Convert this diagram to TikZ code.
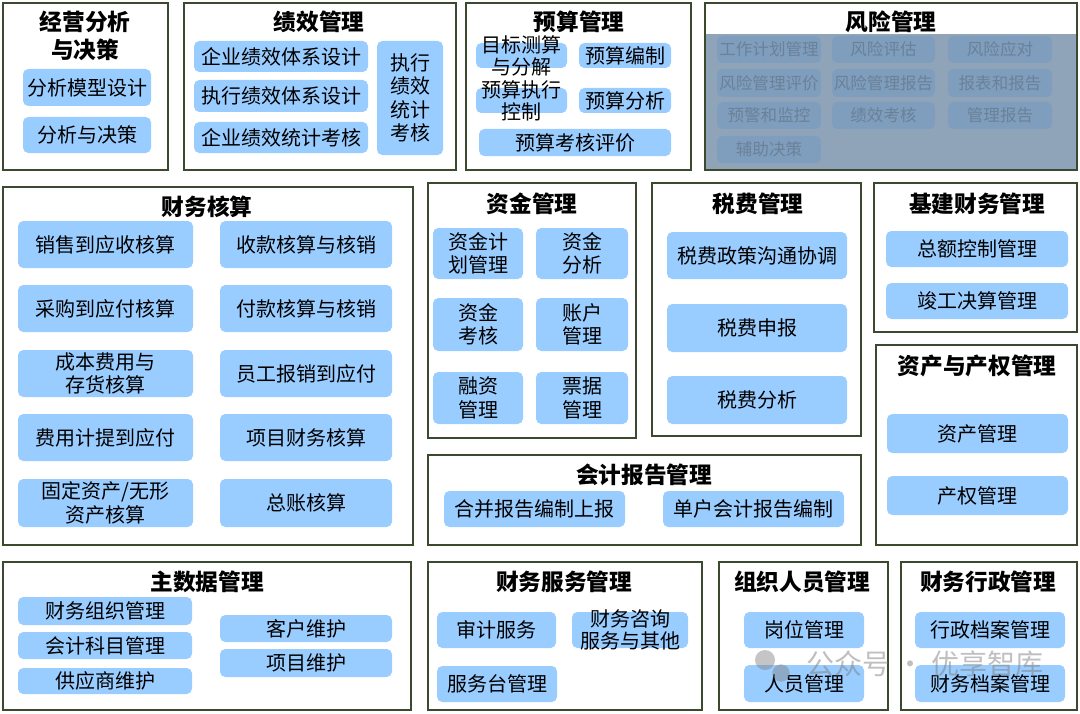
\documentclass[tikz,border=0pt]{standalone}
\usepackage{fontspec}
\setmainfont{Noto Sans CJK SC}
\usetikzlibrary{fit}
\definecolor{bord}{HTML}{3B4A2E}
\definecolor{itemblue}{HTML}{99CCFF}
\definecolor{riskbg}{HTML}{8FA4B9}
\definecolor{riskitem}{HTML}{7F9DBC}
\definecolor{risktext}{HTML}{6A8199}
\newcommand\ibx[7][itext]{\node[itembox, fit={(#3,#4) (#5,#6)}] (#2) {};\node[#1] (#2t) at (#2.center) {#7};}
\newcommand\rbx[6]{\node[ritembox, fit={(#2,#3) (#4,#5)}] (#1) {};\node[ritext] (#1t) at (#1.center) {#6};}
\newcommand\obx[5]{\node[outer, fit={(#2,#3) (#4,#5)}] (#1) {};}
\begin{document}
\begin{tikzpicture}[x=0.75pt,y=-0.75pt,
  outer/.style={draw=bord, line width=1.7pt, fill=white, inner sep=0pt},
  titletext/.style={font=\bfseries\fontsize{17}{21}\selectfont, align=center, inner sep=0pt},
  itembox/.style={fill=itemblue, rounded corners=4pt, inner sep=0pt, draw=none},
  ritembox/.style={fill=riskitem, rounded corners=4pt, inner sep=0pt, draw=none},
  itext/.style={font=\fontsize{15}{17.5}\selectfont, align=center, inner sep=0pt, text=black},
  ritext/.style={font=\fontsize{12.4}{14}\selectfont, align=center, inner sep=0pt, text=risktext}]
\useasboundingbox[fill=white] (0,0) rectangle (1080,713);

% ===== 经营分析与决策 =====
\obx{b1}{3}{3}{168}{170}
\node[titletext, font=\bfseries\fontsize{17}{21}\selectfont] (b1T) at (85,36) {经营分析\\与决策};
\ibx{a1}{23}{69}{151}{106}{分析模型设计}
\ibx{a2}{23}{117}{151}{153}{分析与决策}

% ===== 绩效管理 =====
\obx{b2}{184}{3}{456}{170}
\node[titletext] (b2T) at (319,22) {绩效管理};
\ibx{p1}{194}{41}{368}{72}{企业绩效体系设计}
\ibx{p2}{194}{80}{368}{112}{执行绩效体系设计}
\ibx{p3}{194}{122}{368}{153}{企业绩效统计考核}
\ibx[itext, font=\fontsize{15}{17.6}\selectfont]{p4}{377}{41}{443}{155}{执行\\绩效\\统计\\考核}

% ===== 预算管理 =====
\obx{b3}{466}{3}{691}{170}
\node[titletext] (b3T) at (579,22) {预算管理};
\ibx[itext, font=\fontsize{15}{16.5}\selectfont]{y1}{476}{43}{567}{68}{目标测算\\与分解}
\ibx{y2}{579}{43}{671}{68}{预算编制}
\ibx[itext, font=\fontsize{15}{16.5}\selectfont]{y3}{476}{88}{567}{113}{预算执行\\控制}
\ibx{y4}{579}{88}{671}{113}{预算分析}
\ibx{y5}{479}{129}{671}{156}{预算考核评价}

% ===== 风险管理 =====
\obx{b4}{705}{3}{1077}{170}
\node[titletext] (b4T) at (891,22) {风险管理};
\fill[riskbg] (706,34) rectangle (1076,169);
\rbx{r1}{717}{36}{821}{63}{工作计划管理}
\rbx{r2}{832}{36}{935}{63}{风险评估}
\rbx{r3}{948}{36}{1052}{63}{风险应对}
\rbx{r4}{717}{69}{821}{97}{风险管理评价}
\rbx{r5}{832}{69}{935}{97}{风险管理报告}
\rbx{r6}{948}{69}{1052}{97}{报表和报告}
\rbx{r7}{717}{102}{821}{129}{预警和监控}
\rbx{r8}{832}{102}{935}{129}{绩效考核}
\rbx{r9}{948}{102}{1052}{129}{管理报告}
\rbx{r10}{717}{136}{821}{163}{辅助决策}

% ===== 财务核算 =====
\obx{b5}{3}{187}{413}{545}
\node[titletext] (b5T) at (207,207) {财务核算};
\ibx{c1}{18}{221}{193}{268}{销售到应收核算}
\ibx{c2}{18}{285}{193}{332}{采购到应付核算}
\ibx{c3}{18}{350}{193}{397}{成本费用与\\存货核算}
\ibx{c4}{18}{414}{193}{461}{费用计提到应付}
\ibx{c5}{18}{479}{193}{527}{固定资产/无形\\资产核算}
\ibx{c6}{220}{221}{392}{268}{收款核算与核销}
\ibx{c7}{220}{285}{392}{332}{付款核算与核销}
\ibx{c8}{220}{350}{392}{397}{员工报销到应付}
\ibx{c9}{220}{414}{392}{461}{项目财务核算}
\ibx{c10}{220}{479}{392}{527}{总账核算}

% ===== 资金管理 =====
\obx{b6}{428}{183}{636}{438}
\node[titletext] (b6T) at (532,204) {资金管理};
\ibx{f1}{433}{228}{523}{279}{资金计\\划管理}
\ibx{f2}{536}{228}{628}{279}{资金\\分析}
\ibx{f3}{433}{298}{523}{351}{资金\\考核}
\ibx{f4}{536}{298}{628}{351}{账户\\管理}
\ibx{f5}{433}{372}{523}{424}{融资\\管理}
\ibx{f6}{536}{372}{628}{424}{票据\\管理}

% ===== 税费管理 =====
\obx{b7}{652}{183}{861}{436}
\node[titletext] (b7T) at (758,204) {税费管理};
\ibx{t1}{667}{232}{847}{279}{税费政策沟通协调}
\ibx{t2}{667}{304}{847}{352}{税费申报}
\ibx{t3}{667}{376}{847}{424}{税费分析}

% ===== 基建财务管理 =====
\obx{b8}{874}{183}{1077}{332}
\node[titletext] (b8T) at (977,204) {基建财务管理};
\ibx{j1}{886}{231}{1068}{267}{总额控制管理}
\ibx{j2}{886}{283}{1068}{319}{竣工决算管理}

% ===== 资产与产权管理 =====
\obx{b9}{876}{345}{1077}{545}
\node[titletext] (b9T) at (977,366) {资产与产权管理};
\ibx{z1}{887}{414}{1068}{453}{资产管理}
\ibx{z2}{887}{476}{1068}{515}{产权管理}

% ===== 会计报告管理 =====
\obx{b10}{428}{455}{861}{545}
\node[titletext] (b10T) at (644,475) {会计报告管理};
\ibx{k1}{444}{491}{625}{527}{合并报告编制上报}
\ibx{k2}{663}{491}{844}{527}{单户会计报告编制}

% ===== 主数据管理 =====
\obx{b11}{3}{562}{411}{710}
\node[titletext] (b11T) at (207,582) {主数据管理};
\ibx{m1}{18}{597}{192}{625}{财务组织管理}
\ibx{m2}{18}{632}{192}{659}{会计科目管理}
\ibx{m3}{18}{668}{192}{694}{供应商维护}
\ibx{m4}{220}{615}{392}{642}{客户维护}
\ibx{m5}{220}{649}{392}{677}{项目维护}

% ===== 财务服务管理 =====
\obx{b12}{428}{562}{702}{710}
\node[titletext] (b12T) at (564,582) {财务服务管理};
\ibx{s1}{437}{612}{556}{648}{审计服务}
\ibx[itext, font=\fontsize{15}{17}\selectfont]{s2}{572}{612}{688}{648}{财务咨询\\服务与其他}
\ibx{s3}{437}{666}{557}{702}{服务台管理}

% ===== 组织人员管理 =====
\obx{b13}{719}{562}{888}{710}
\node[titletext] (b13T) at (802,582) {组织人员管理};
\ibx{o1}{744}{612}{864}{648}{岗位管理}
\ibx{o2}{744}{665}{864}{702}{人员管理}

% ===== 财务行政管理 =====
\obx{b14}{901}{562}{1077}{710}
\node[titletext] (b14T) at (988,582) {财务行政管理};
\ibx{x1}{915}{612}{1065}{648}{行政档案管理}
\ibx{x2}{915}{665}{1065}{702}{财务档案管理}

% ===== watermark =====
\fill[gray, opacity=0.45] (765,660) circle[radius=7.5pt];
\fill[gray, opacity=0.45] (781,673) circle[radius=6.5pt];
\node[text=gray, opacity=0.5, font=\fontsize{21}{21}\selectfont, inner sep=0pt] (wm) at (925,664) {公众号 · 优享智库};
\end{tikzpicture}
\end{document}
